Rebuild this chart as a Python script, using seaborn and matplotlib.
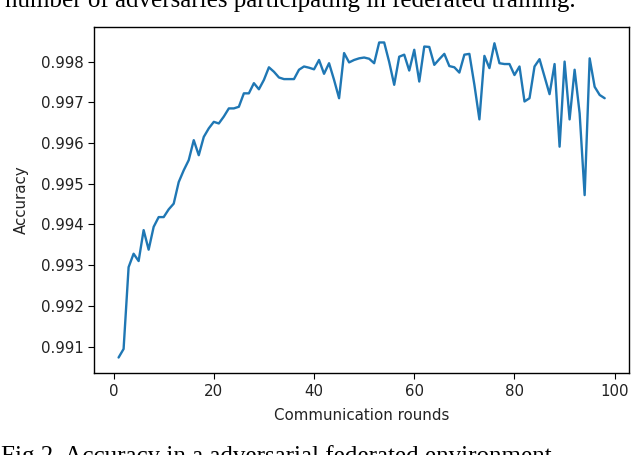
import numpy as np
import pandas as pd
import matplotlib
matplotlib.use("Agg")
import matplotlib.pyplot as plt
from matplotlib.ticker import FormatStrFormatter
import seaborn as sns

# === Data ===
rounds = np.arange(1, 99)
accuracy = [
    0.99073, 0.99094, 0.99295, 0.99328, 0.99310, 0.99386, 0.99338, 0.99394, 0.99418, 0.99418,
    0.99437, 0.99451, 0.99504, 0.99533, 0.99558, 0.99607, 0.99570, 0.99615, 0.99636, 0.99652,
    0.99648, 0.99665, 0.99685, 0.99685, 0.99689, 0.99722, 0.99722, 0.99747, 0.99732, 0.99755,
    0.99786, 0.99775, 0.99761, 0.99757, 0.99757, 0.99757, 0.99780, 0.99788, 0.99785, 0.99781,
    0.99804, 0.99770, 0.99796, 0.99755, 0.99710, 0.99821, 0.99798, 0.99804, 0.99808, 0.99810,
    0.99807, 0.99796, 0.99847, 0.99847, 0.99799, 0.99743, 0.99812, 0.99817, 0.99778, 0.99829,
    0.99751, 0.99837, 0.99836, 0.99792, 0.99806, 0.99819, 0.99789, 0.99786, 0.99773, 0.99817,
    0.99819, 0.99743, 0.99658, 0.99814, 0.99784, 0.99845, 0.99796, 0.99794, 0.99794, 0.99767,
    0.99788, 0.99702, 0.99710, 0.99788, 0.99806, 0.99763, 0.99720, 0.99794, 0.99591, 0.99800,
    0.99658, 0.99780, 0.99673, 0.99472, 0.99808, 0.99738, 0.99718, 0.99710,
]
xticks = [0, 20, 40, 60, 80, 100]
yticks = [0.991, 0.992, 0.993, 0.994, 0.995, 0.996, 0.997, 0.998]

caption_top = "number of adversaries participating in federated training."
caption_bottom = "Fig 2. Accuracy in a adversarial federated environment"

df = pd.DataFrame({"round": rounds, "accuracy": accuracy})

# === Style ===
sns.set_style("ticks", {"axes.edgecolor": "black", "xtick.color": "black",
                        "ytick.color": "black", "text.color": "#222222",
                        "axes.labelcolor": "#222222"})
plt.rcParams["font.family"] = ["DejaVu Sans"]
plt.rcParams["font.size"] = 10.8
plt.rcParams["xtick.major.size"] = 4
plt.rcParams["ytick.major.size"] = 4

fig = plt.figure(figsize=(6.4, 4.55), dpi=100)
ax = fig.add_axes([0.1473, 0.1796, 0.8355, 0.7617])

sns.lineplot(data=df, x="round", y="accuracy", ax=ax, color="#1f77b4", linewidth=1.7)

ax.set_xticks(xticks)
ax.set_yticks(yticks)
ax.yaxis.set_major_formatter(FormatStrFormatter("%.3f"))
ax.tick_params(labelsize=10.8, labelcolor="#222222")
ax.set_xlabel("Communication rounds", fontsize=10.8, labelpad=7)
ax.set_ylabel("Accuracy", fontsize=10.8, labelpad=9)
for s in ax.spines.values():
    s.set_visible(True)
    s.set_linewidth(1.0)

# captions of the surrounding page, cut by the crop as in the source
fig.text(0.008, 0.9846, caption_top, family="Liberation Serif", fontsize=18,
         color="black", va="baseline", ha="left")
fig.text(0.002, -0.0185, caption_bottom, family="Liberation Serif", fontsize=18,
         color="black", va="baseline", ha="left")

fig.savefig("out.png", dpi=100)
